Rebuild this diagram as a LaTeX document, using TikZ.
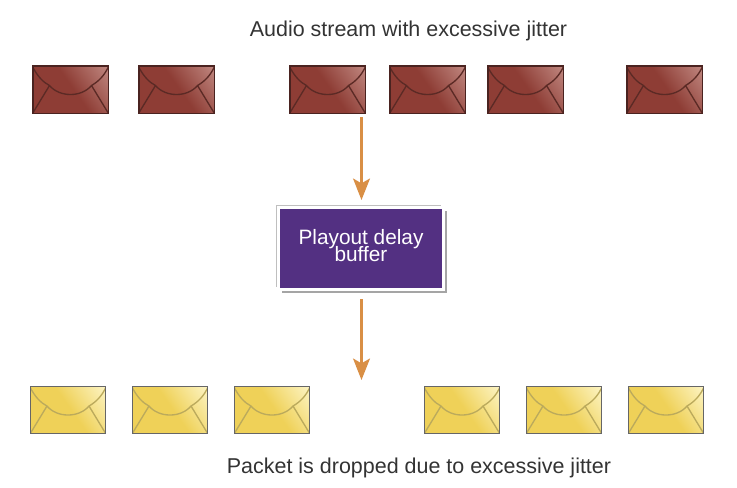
\documentclass[tikz,border=0pt]{standalone}
\usepackage{fontspec}
\setmainfont{Liberation Sans}
\usetikzlibrary{arrows.meta, shadows}

\definecolor{redbase}{HTML}{8E3D35}
\definecolor{redlight}{HTML}{C58F88}
\definecolor{redline}{HTML}{4A2320}
\definecolor{yellowbase}{HTML}{EFD158}
\definecolor{yellowlight}{HTML}{FEF8D0}
\definecolor{yellowline}{HTML}{BBAA5C}
\definecolor{bufferpurple}{HTML}{533082}
\definecolor{arroworange}{HTML}{D98F45}

\pgfdeclarehorizontalshading{redshade}{100bp}{color(0bp)=(redbase); color(52bp)=(redbase); color(88bp)=(redlight); color(100bp)=(redlight)}
\pgfdeclarehorizontalshading{yellowshade}{100bp}{color(0bp)=(yellowbase); color(52bp)=(yellowbase); color(88bp)=(yellowlight); color(100bp)=(yellowlight)}

\newcommand{\flaplines}[1]{%
	\draw [#1, line width=1pt]
		(-38,-23) .. controls (-33,-13) and (-27,-7) .. (-21,-4) .. controls (-11,8) and (11,8) .. (21,-4) .. controls (28,-8) and (34,-14) .. (38,-23)
		(-21,-4)--(-38,24) (21,-4)--(38,24);%信封折线
}

\tikzset{
	envelope/.style={minimum width=56.5pt, minimum height=35.5pt, inner sep=0pt, line width=1pt},
	redenv/.style={envelope, draw=redline, shading=redshade, shading angle=35, path picture={\flaplines{redline!75!redbase}}},
	yellowenv/.style={envelope, draw=black!60, shading=yellowshade, shading angle=35, path picture={\flaplines{yellowline}}},
	bufferbox/.style={fill=bufferpurple, draw=white, line width=2.4pt, minimum width=124pt, minimum height=61.6pt, inner sep=0pt,
		text=white, align=center, font=\fontsize{15.6}{12}\selectfont,
		general shadow={shadow xshift=-2pt, shadow yshift=2pt, fill=black!25, draw=none},
		drop shadow={shadow xshift=2.5pt, shadow yshift=-2.5pt, fill=black!70, draw=none}},
	flowarrow/.style={draw=arroworange, fill=arroworange, line width=2.6pt, -{Stealth[length=16pt, width=12.5pt, inset=3.5pt]}},
	caption/.style={font=\fontsize{16.1}{18}\selectfont, text=black!80}
}

\begin{document}
\begin{tikzpicture}[x=0.75pt, y=-0.75pt]

	\useasboundingbox (0,0) rectangle (737,487);

	\node [caption] (toptext) at (408.5,31) {Audio stream with excessive jitter};
	\node [caption] (bottomtext) at (419,468) {Packet is dropped due to excessive jitter};

	\foreach \x [count=\n] in {70.5,176.5,327.5,427.5,525.5,664.5}
	\node [redenv] (red\n) at (\x,89.5) {};%抖动的数据包
	\foreach \x [count=\n] in {68,170,272,462,564,666}
	\node [yellowenv] (yellow\n) at (\x,410) {};%输出的数据包

	\node [bufferbox] (buffer) at (361,248.5) {Playout delay\\[-3pt]buffer\rule[-5pt]{0pt}{5pt}};

	\coordinate (inarrow) at (361.5,117);
	\coordinate (inhead) at (361.5,200);
	\coordinate (outarrow) at (361.5,299);
	\coordinate (outhead) at (361.5,380);
	\draw [flowarrow] (inarrow)--(inhead);%进入缓冲区
	\draw [flowarrow] (outarrow)--(outhead);%离开缓冲区

\end{tikzpicture}
\end{document}
